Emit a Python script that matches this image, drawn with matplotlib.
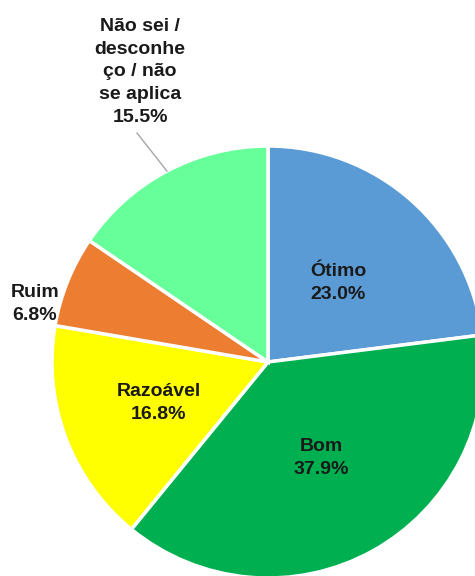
import numpy as np
import matplotlib.pyplot as plt

plt.rcParams['font.family'] = ['Liberation Sans', 'DejaVu Sans']

labels = ["Ótimo", "Bom", "Razoável", "Ruim", "Não sei /\ndesconhe\nço / não\nse aplica"]
values = [23.0, 37.9, 16.8, 6.8, 15.5]
colors = ["#5B9BD5", "#00B050", "#FFFF00", "#ED7D31", "#66FF99"]

fig = plt.figure(figsize=(4.75, 5.76), dpi=100)
ax = fig.add_axes([0, 0, 1, 1])

cx, cy, r = 268, 214, 216
wedges, _ = ax.pie(values, colors=colors, startangle=90, counterclock=False,
                   center=(cx, cy), radius=r, frame=True,
                   wedgeprops=dict(edgecolor='white', linewidth=2.5))
ax.set_xlim(0, 475)
ax.set_ylim(0, 576)
ax.set_aspect('equal')
ax.axis('off')

fs = 14
ls = 1.45
tc = '#1a1a1a'

# distancia do rótulo (fração do raio)
dist = [0.49, 0.51, 0.54, None, None]
for w, lab, v, d in zip(wedges, labels, values, dist):
    mid = np.deg2rad((w.theta1 + w.theta2) / 2)
    txt = f"{lab}\n{v:.1f}%"
    if d is not None:
        ax.text(cx + d * r * np.cos(mid), cy + d * r * np.sin(mid), txt,
                ha='center', va='center', fontsize=fs, fontweight='bold',
                color=tc, linespacing=ls)

# Ruim
ax.text(35, 576 - 304, f"{labels[3]}\n{values[3]:.1f}%", ha='center', va='center',
        fontsize=fs, fontweight='bold', color=tc, linespacing=ls)

# Não sei, com linha guia
mid = np.deg2rad((wedges[4].theta1 + wedges[4].theta2) / 2)
ex, ey = cx + r * np.cos(mid), cy + r * np.sin(mid)
ax.plot([ex, 137], [ey, 576 - 133], color='#a6a6a6', lw=1)
ax.text(140, 576 - 72, f"{labels[4]}\n{values[4]:.1f}%", ha='center', va='center',
        fontsize=fs, fontweight='bold', color=tc, linespacing=ls)

fig.savefig("out.png", dpi=100)
